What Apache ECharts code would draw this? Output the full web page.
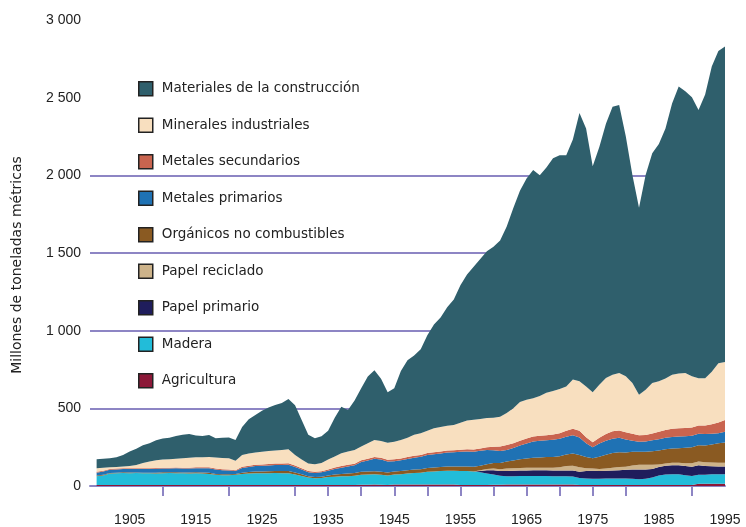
<!DOCTYPE html>
<html>
<head>
<meta charset="utf-8">
<script src="https://cdn.jsdelivr.net/npm/echarts@6/dist/echarts.min.js"></script>
<style>
  html, body { margin: 0; padding: 0; background: #fff; }
  #chart_container { width: 746px; height: 527px; }
</style>
</head>
<body>
<div id="chart_container"></div>
<script>
// años 1899 - 1995 (1899 sin datos, solo margen del eje)
const years = []
for (let y = 1899; y <= 1995; y++) years.push(String(y))

// millones de toneladas métricas, 1900 - 1995, de abajo hacia arriba
const agricultura = [
  6, 6, 6, 6, 6, 6, 6, 6, 6, 6,
  6, 6, 6, 6, 6, 6, 6, 6, 6, 6,
  6, 6, 6, 6, 6, 6, 6, 6, 6, 6,
  6, 6, 6, 6, 6, 6, 6, 6, 6, 6,
  8, 8, 9, 8, 6, 10, 10, 10, 10, 10,
  10, 10, 10, 10, 10, 6, 6, 6, 6, 6,
  8, 8, 9, 9, 9, 9, 9, 9, 9, 9,
  9, 9, 9, 6, 6, 6, 6, 6, 6, 6,
  6, 6, 6, 6, 6, 6, 6, 6, 6, 6,
  6, 15, 15, 15, 15, 15]
const madera = [
  56, 62, 74, 76, 78, 76, 77, 76, 76, 75,
  76, 77, 76, 76, 75, 76, 74, 72, 66, 64,
  64, 66, 72, 74, 76, 76, 76, 77, 76, 76,
  68, 58, 48, 44, 46, 52, 54, 56, 57, 60,
  65, 66, 66, 64, 62, 64, 66, 70, 74, 76,
  82, 84, 86, 88, 88, 90, 90, 88, 82, 74,
  66, 58, 54, 54, 55, 55, 55, 55, 55, 54,
  54, 54, 52, 45, 42, 40, 40, 42, 42, 42,
  42, 40, 38, 40, 48, 62, 68, 70, 70, 64,
  58, 58, 58, 60, 60, 60]
const papelPrimario = [
  0, 0, 0, 0, 0, 0, 0, 0, 0, 0,
  0, 0, 0, 0, 0, 0, 0, 0, 0, 0,
  0, 0, 0, 0, 0, 0, 0, 0, 0, 0,
  0, 0, 0, 0, 0, 0, 0, 0, 0, 0,
  0, 0, 0, 0, 0, 0, 0, 0, 0, 0,
  0, 0, 0, 0, 0, 0, 0, 0, 8, 22,
  28, 30, 34, 35, 36, 36, 37, 37, 37, 37,
  37, 37, 38, 40, 48, 52, 50, 50, 52, 54,
  56, 60, 62, 60, 56, 55, 56, 58, 58, 58,
  60, 60, 55, 52, 50, 50]
const papelReciclado = [
  0, 0, 0, 0, 0, 0, 0, 0, 0, 0,
  0, 0, 0, 0, 0, 0, 0, 0, 0, 0,
  0, 0, 0, 0, 0, 0, 0, 0, 0, 0,
  0, 0, 0, 0, 0, 0, 0, 0, 0, 0,
  0, 0, 0, 0, 0, 0, 0, 0, 0, 0,
  0, 0, 0, 0, 0, 0, 0, 0, 5, 8,
  10, 12, 15, 16, 16, 17, 17, 17, 17, 17,
  20, 28, 32, 30, 18, 14, 14, 15, 18, 20,
  20, 26, 30, 30, 26, 16, 15, 15, 15, 18,
  22, 24, 25, 25, 25, 25]
const organicos = [
  6, 5, 3, 3, 4, 5, 4, 3, 4, 5,
  6, 5, 6, 5, 6, 6, 7, 8, 6, 6,
  6, 5, 8, 10, 12, 12, 13, 14, 14, 14,
  13, 11, 9, 8, 8, 10, 14, 16, 17, 18,
  19, 20, 20, 20, 19, 20, 21, 22, 22, 22,
  24, 25, 26, 28, 28, 29, 30, 30, 30, 30,
  36, 40, 45, 50, 56, 60, 64, 66, 68, 70,
  72, 75, 78, 79, 72, 66, 78, 88, 94, 96,
  92, 88, 85, 85, 88, 90, 92, 92, 94, 100,
  104, 106, 107, 115, 125, 130]
const metalesPrimarios = [
  18, 20, 22, 22, 22, 22, 23, 24, 24, 25,
  25, 25, 26, 26, 26, 26, 27, 28, 28, 26,
  24, 20, 30, 32, 34, 36, 37, 38, 39, 40,
  36, 32, 26, 26, 28, 30, 36, 40, 46, 50,
  62, 70, 80, 78, 70, 66, 68, 72, 76, 80,
  84, 86, 88, 90, 92, 95, 96, 97, 96, 92,
  82, 78, 75, 80, 88, 96, 104, 107, 108, 110,
  112, 114, 118, 112, 90, 72, 85, 90, 92, 92,
  84, 72, 64, 66, 70, 72, 74, 75, 75, 74,
  74, 74, 75, 70, 64, 70]
const metalesSecundarios = [
  5, 5, 5, 5, 5, 5, 5, 5, 5, 5,
  5, 5, 5, 5, 5, 6, 6, 6, 6, 6,
  6, 5, 8, 8, 9, 9, 9, 10, 10, 10,
  9, 8, 7, 7, 7, 8, 9, 10, 10, 10,
  11, 12, 12, 12, 12, 12, 12, 12, 12, 12,
  12, 12, 12, 12, 12, 13, 14, 14, 15, 18,
  22, 28, 32, 32, 32, 32, 32, 32, 32, 34,
  36, 38, 42, 44, 38, 32, 38, 44, 48, 48,
  46, 44, 42, 42, 44, 48, 50, 52, 53, 53,
  53, 53, 54, 60, 70, 75]
const mineralesIndustriales = [
  24, 19, 11, 10, 10, 14, 20, 34, 43, 49,
  52, 54, 56, 60, 64, 65, 65, 66, 72, 72,
  72, 60, 76, 80, 78, 82, 84, 83, 87, 90,
  68, 55, 49, 49, 53, 64, 71, 83, 86, 88,
  90, 99, 109, 108, 109, 113, 119, 124, 136, 139,
  143, 154, 158, 160, 163, 174, 186, 192, 190, 188,
  188, 192, 206, 224, 248, 251, 247, 257, 274, 281,
  285, 285, 317, 318, 327, 321, 341, 360, 365, 370,
  360, 327, 261, 291, 325, 325, 331, 349, 353, 355,
  329, 303, 304, 339, 381, 373]
const construccion = [
  57, 58, 57, 63, 75, 94, 105, 114, 118, 130,
  135, 139, 147, 152, 153, 140, 137, 142, 123, 130,
  135, 134, 180, 220, 242, 264, 280, 293, 303, 324,
  320, 255, 185, 167, 172, 185, 250, 299, 267, 318,
  375, 430, 449, 400, 325, 345, 444, 500, 510, 541,
  615, 669, 705, 762, 807, 885, 940, 985, 1030, 1074,
  1100, 1134, 1200, 1290, 1360, 1424, 1470, 1420, 1450, 1498,
  1505, 1490, 1544, 1728, 1661, 1455, 1530, 1637, 1725, 1724,
  1546, 1339, 1204, 1382, 1479, 1528, 1610, 1745, 1848, 1814,
  1796, 1727, 1827, 1964, 2010, 2032]

const seriesNames = ['Agricultura', 'Madera', 'Papel primario', 'Papel reciclado',
  'Orgánicos no combustibles', 'Metales primarios', 'Metales secundarios',
  'Minerales industriales', 'Materiales de la construcción']
const seriesData = [agricultura, madera, papelPrimario, papelReciclado, organicos,
  metalesPrimarios, metalesSecundarios, mineralesIndustriales, construccion]
const colors = ['#8c1838', '#22bcd9', '#1f1d5c', '#cdb38a', '#8a5a22',
  '#1f72b4', '#c9644f', '#f8dfbf', '#2f5f6c']

const tickYears = ['1910', '1920', '1930', '1935', '1940', '1945', '1950', '1955',
  '1960', '1965', '1970', '1975', '1980', '1990']
const labelYears = ['1905', '1915', '1925', '1935', '1945', '1955', '1965', '1975', '1985', '1995']
const gridValues = [500, 1000, 1500, 2000]

const purple = '#8d85c4'
const font = 'Liberation Sans, Arial, sans-serif'
const wideFont = 'DejaVu Sans, sans-serif'

function fmtThousands(v) {
  if (v < 1000) return String(v)
  return Math.floor(v / 1000) + ' ' + String(v % 1000).padStart(3, '0')
}

let series = seriesData.map((arr, i) => {
  let s = {
    name: seriesNames[i],
    type: 'line',
    stack: 'total',
    symbol: 'none',
    z: 3,
    lineStyle: { width: 0 },
    areaStyle: { color: colors[i], opacity: 1 },
    itemStyle: { color: colors[i] },
    data: ['-'].concat(arr),
  }
  if (i === 0) {
    // líneas horizontales de referencia, detrás de las áreas
    s.markLine = {
      silent: true,
      z: 1,
      symbol: ['none', 'none'],
      label: { show: false },
      lineStyle: { color: purple, width: 2, type: 'solid' },
      data: gridValues.map(v => ({ yAxis: v })),
    }
  }
  return s
})

let option = {
  animation: false,
  backgroundColor: '#fff',
  textStyle: { fontFamily: font },
  grid: { left: 90, right: 21, top: 20, bottom: 41 },
  legend: {
    orient: 'vertical',
    left: 133,
    top: 76,
    icon: 'rect',
    itemWidth: 14,
    itemHeight: 14,
    itemGap: 21,
    itemStyle: { borderColor: '#222', borderWidth: 1.5 },
    textStyle: {
      fontFamily: wideFont,
      fontSize: 13.5,
      color: '#222',
      lineHeight: 15,
      padding: [0, 0, 0, 4],
    },
    data: seriesNames.slice().reverse(),
  },
  xAxis: {
    type: 'category',
    boundaryGap: false,
    data: years,
    splitLine: { show: false },
    axisLine: { lineStyle: { color: purple, width: 2 } },
    axisTick: {
      interval: (idx, val) => tickYears.includes(val),
      length: 10,
      lineStyle: { color: purple, width: 2 },
    },
    axisLabel: {
      interval: (idx, val) => labelYears.includes(val),
      margin: 27,
      fontSize: 14,
      color: '#222',
    },
  },
  yAxis: {
    type: 'value',
    min: 0,
    max: 3000,
    interval: 500,
    name: 'Millones de toneladas métricas',
    nameLocation: 'middle',
    nameGap: 66,
    nameRotate: 90,
    nameTextStyle: { fontFamily: wideFont, fontSize: 14, color: '#222', padding: [0, 24, 0, 0] },
    axisLine: { show: false },
    axisTick: { show: false },
    splitLine: { show: false },
    axisLabel: { margin: 9, fontSize: 14, color: '#222', formatter: fmtThousands },
  },
  series: series,
}

let chartPlot = echarts.init(document.getElementById('chart_container'))
chartPlot.setOption(option)
</script>
</body>
</html>
